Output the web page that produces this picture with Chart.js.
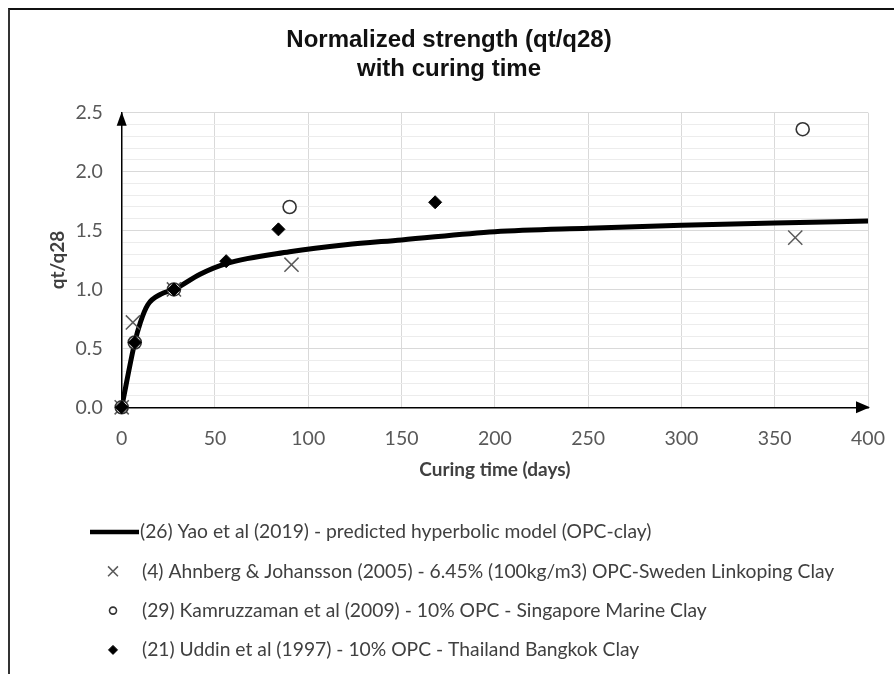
<!DOCTYPE html>
<html>
<head>
<meta charset="utf-8">
<script src="https://cdn.jsdelivr.net/npm/chart.js@4.4.1/dist/chart.umd.min.js"></script>
<style>
  html, body { margin: 0; padding: 0; background: #fff; }
  #wrap { position: relative; width: 894px; height: 674px; overflow: hidden; }
  #frame { position: absolute; left: 8px; top: 8px; right: -4px; bottom: -4px; border-top: 2px solid #111; border-left: 2px solid #333; }
  canvas { position: absolute; left: 0; top: 0; }
</style>
</head>
<body>
<div id="wrap">
  <div id="frame"></div>
  <canvas id="chart" width="894" height="674"></canvas>
</div>
<script>
// hyperbolic model curve
const modelDays  = [0, 7, 10, 14, 21, 28, 42, 56, 90, 120, 150, 200, 250, 300, 350, 400];
const modelRatio = [0, 0.55, 0.72, 0.87, 0.96, 1.0, 1.13, 1.22, 1.32, 1.38, 1.42, 1.49, 1.52, 1.545, 1.565, 1.58];

// measured data
const ahnbergDays  = [0, 6, 28, 91, 361];
const ahnbergRatio = [0, 0.72, 1.0, 1.21, 1.44];
const kamDays  = [0, 7, 28, 90, 365];
const kamRatio = [0, 0.55, 1.0, 1.70, 2.36];
const uddinDays  = [0, 7, 28, 56, 84, 168];
const uddinRatio = [0, 0.55, 1.0, 1.24, 1.51, 1.74];

const seriesNames = [
  '(26) Yao et al (2019) - predicted hyperbolic model (OPC-clay)',
  '(4) Ahnberg & Johansson (2005) - 6.45% (100kg/m3) OPC-Sweden Linkoping Clay',
  '(29) Kamruzzaman et al (2009) - 10% OPC - Singapore Marine Clay',
  '(21) Uddin et al (1997) - 10% OPC - Thailand Bangkok Clay'
];
const titleLines = ['Normalized strength (qt/q28)', 'with curing time'];
const xTicks = [0, 50, 100, 150, 200, 250, 300, 350, 400];

const toPoints = (xs, ys) => xs.map((x, i) => ({ x: x, y: ys[i] }));
const font = 'Lato, "Open Sans", sans-serif';

// fleches au bout des axes
const axisArrows = {
  id: 'axisArrows',
  afterDraw(chart) {
    const { ctx, chartArea: a } = chart;
    ctx.save();
    ctx.fillStyle = '#000';
    ctx.beginPath();
    ctx.moveTo(a.left, a.top - 1);
    ctx.lineTo(a.left - 5, a.top + 13);
    ctx.lineTo(a.left + 5, a.top + 13);
    ctx.fill();
    ctx.beginPath();
    ctx.moveTo(a.right + 2, a.bottom);
    ctx.lineTo(a.right - 12, a.bottom - 6);
    ctx.lineTo(a.right - 12, a.bottom + 6);
    ctx.fill();
    ctx.restore();
  }
};

// legende en liste verticale sous le graphique
const legendList = {
  id: 'legendList',
  afterDraw(chart) {
    const ctx = chart.ctx;
    ctx.save();
    ctx.font = '19.3px ' + font;
    ctx.textBaseline = 'middle';
    chart.data.datasets.forEach((ds, i) => {
      const y = 532 + i * 39.3;
      if (ds.showLine) {
        ctx.strokeStyle = ds.borderColor;
        ctx.lineWidth = 4.5;
        ctx.beginPath();
        ctx.moveTo(90, y);
        ctx.lineTo(139, y);
        ctx.stroke();
      } else {
        ctx.fillStyle = ds.backgroundColor;
        ctx.strokeStyle = ds.borderColor;
        ctx.lineWidth = ds.borderWidth;
        Chart.helpers.drawPoint(ctx, {
          pointStyle: ds.pointStyle, rotation: 0,
          radius: ds.legendRadius, borderWidth: ds.borderWidth
        }, 113, y);
      }
      ctx.fillStyle = '#404040';
      ctx.fillText(ds.label, i === 0 ? 140 : 142, y);
    });
    ctx.restore();
  }
};

new Chart(document.getElementById('chart'), {
  type: 'scatter',
  data: {
    datasets: [
      {
        label: seriesNames[0],
        data: toPoints(modelDays, modelRatio),
        showLine: true,
        borderColor: '#000',
        backgroundColor: '#000',
        borderWidth: 5,
        pointRadius: 0,
        cubicInterpolationMode: 'monotone',
        order: 4
      },
      {
        label: seriesNames[1],
        data: toPoints(ahnbergDays, ahnbergRatio),
        pointStyle: 'crossRot',
        pointRadius: 10,
        borderColor: '#5a5a5a',
        backgroundColor: '#5a5a5a',
        borderWidth: 1.5,
        legendRadius: 7,
        clip: false,
        order: 3
      },
      {
        label: seriesNames[2],
        data: toPoints(kamDays, kamRatio),
        pointStyle: 'circle',
        pointRadius: 6.5,
        borderColor: '#333',
        backgroundColor: '#fff',
        borderWidth: 1.6,
        legendRadius: 3.5,
        clip: false,
        order: 2
      },
      {
        label: seriesNames[3],
        data: toPoints(uddinDays, uddinRatio),
        pointStyle: 'rectRot',
        pointRadius: 6.5,
        borderColor: '#000',
        backgroundColor: '#000',
        borderWidth: 1,
        legendRadius: 4.5,
        clip: false,
        order: 1
      }
    ]
  },
  options: {
    responsive: false,
    animation: false,
    layout: { padding: { left: 30, right: 26, top: 0, bottom: 186.7 } },
    plugins: {
      legend: { display: false },
      tooltip: { enabled: false },
      title: {
        display: true,
        text: titleLines,
        color: '#111',
        font: { family: '"Liberation Sans", Arial, sans-serif', size: 24, weight: 'bold', lineHeight: 1.2083 },
        padding: { top: 25.5, bottom: 29.2 }
      }
    },
    scales: {
      x: {
        type: 'linear',
        min: 0,
        max: 400,
        afterBuildTicks: scale => { scale.ticks = xTicks.map(v => ({ value: v })); },
        afterFit: scale => { scale.height = 80; scale.paddingLeft = 0; scale.paddingRight = 0; },
        ticks: { color: '#595959', font: { family: font, size: 19.5 }, padding: 20 },
        grid: { color: '#d9d9d9', lineWidth: 1, drawTicks: false },
        border: { color: '#000', width: 1.5 },
        title: {
          display: true,
          text: 'Curing time (days)',
          color: '#404040',
          font: { family: font, size: 19, weight: 'bold', lineHeight: 1.2 },
          padding: { top: 0, bottom: 6 }
        }
      },
      y: {
        min: 0,
        max: 2.5,
        afterFit: scale => { scale.width = 91.7; },
        ticks: {
          stepSize: 0.1,
          autoSkip: false,
          color: '#595959',
          font: { family: font, size: 19.5 },
          padding: 19,
          callback: v => (Math.round(v * 10) % 5 === 0 ? v.toFixed(1) : '')
        },
        grid: {
          drawTicks: false,
          lineWidth: 1,
          color: ctx => (Math.round(ctx.tick.value * 10) % 5 === 0 ? '#d9d9d9' : '#ececec')
        },
        border: { color: '#000', width: 1.5 },
        title: {
          display: true,
          text: 'qt/q28',
          color: '#404040',
          font: { family: font, size: 19, weight: 'bold', lineHeight: 1.2 },
          padding: { top: 16.5, bottom: 0 }
        }
      }
    }
  },
  plugins: [axisArrows, legendList]
});
</script>
</body>
</html>
